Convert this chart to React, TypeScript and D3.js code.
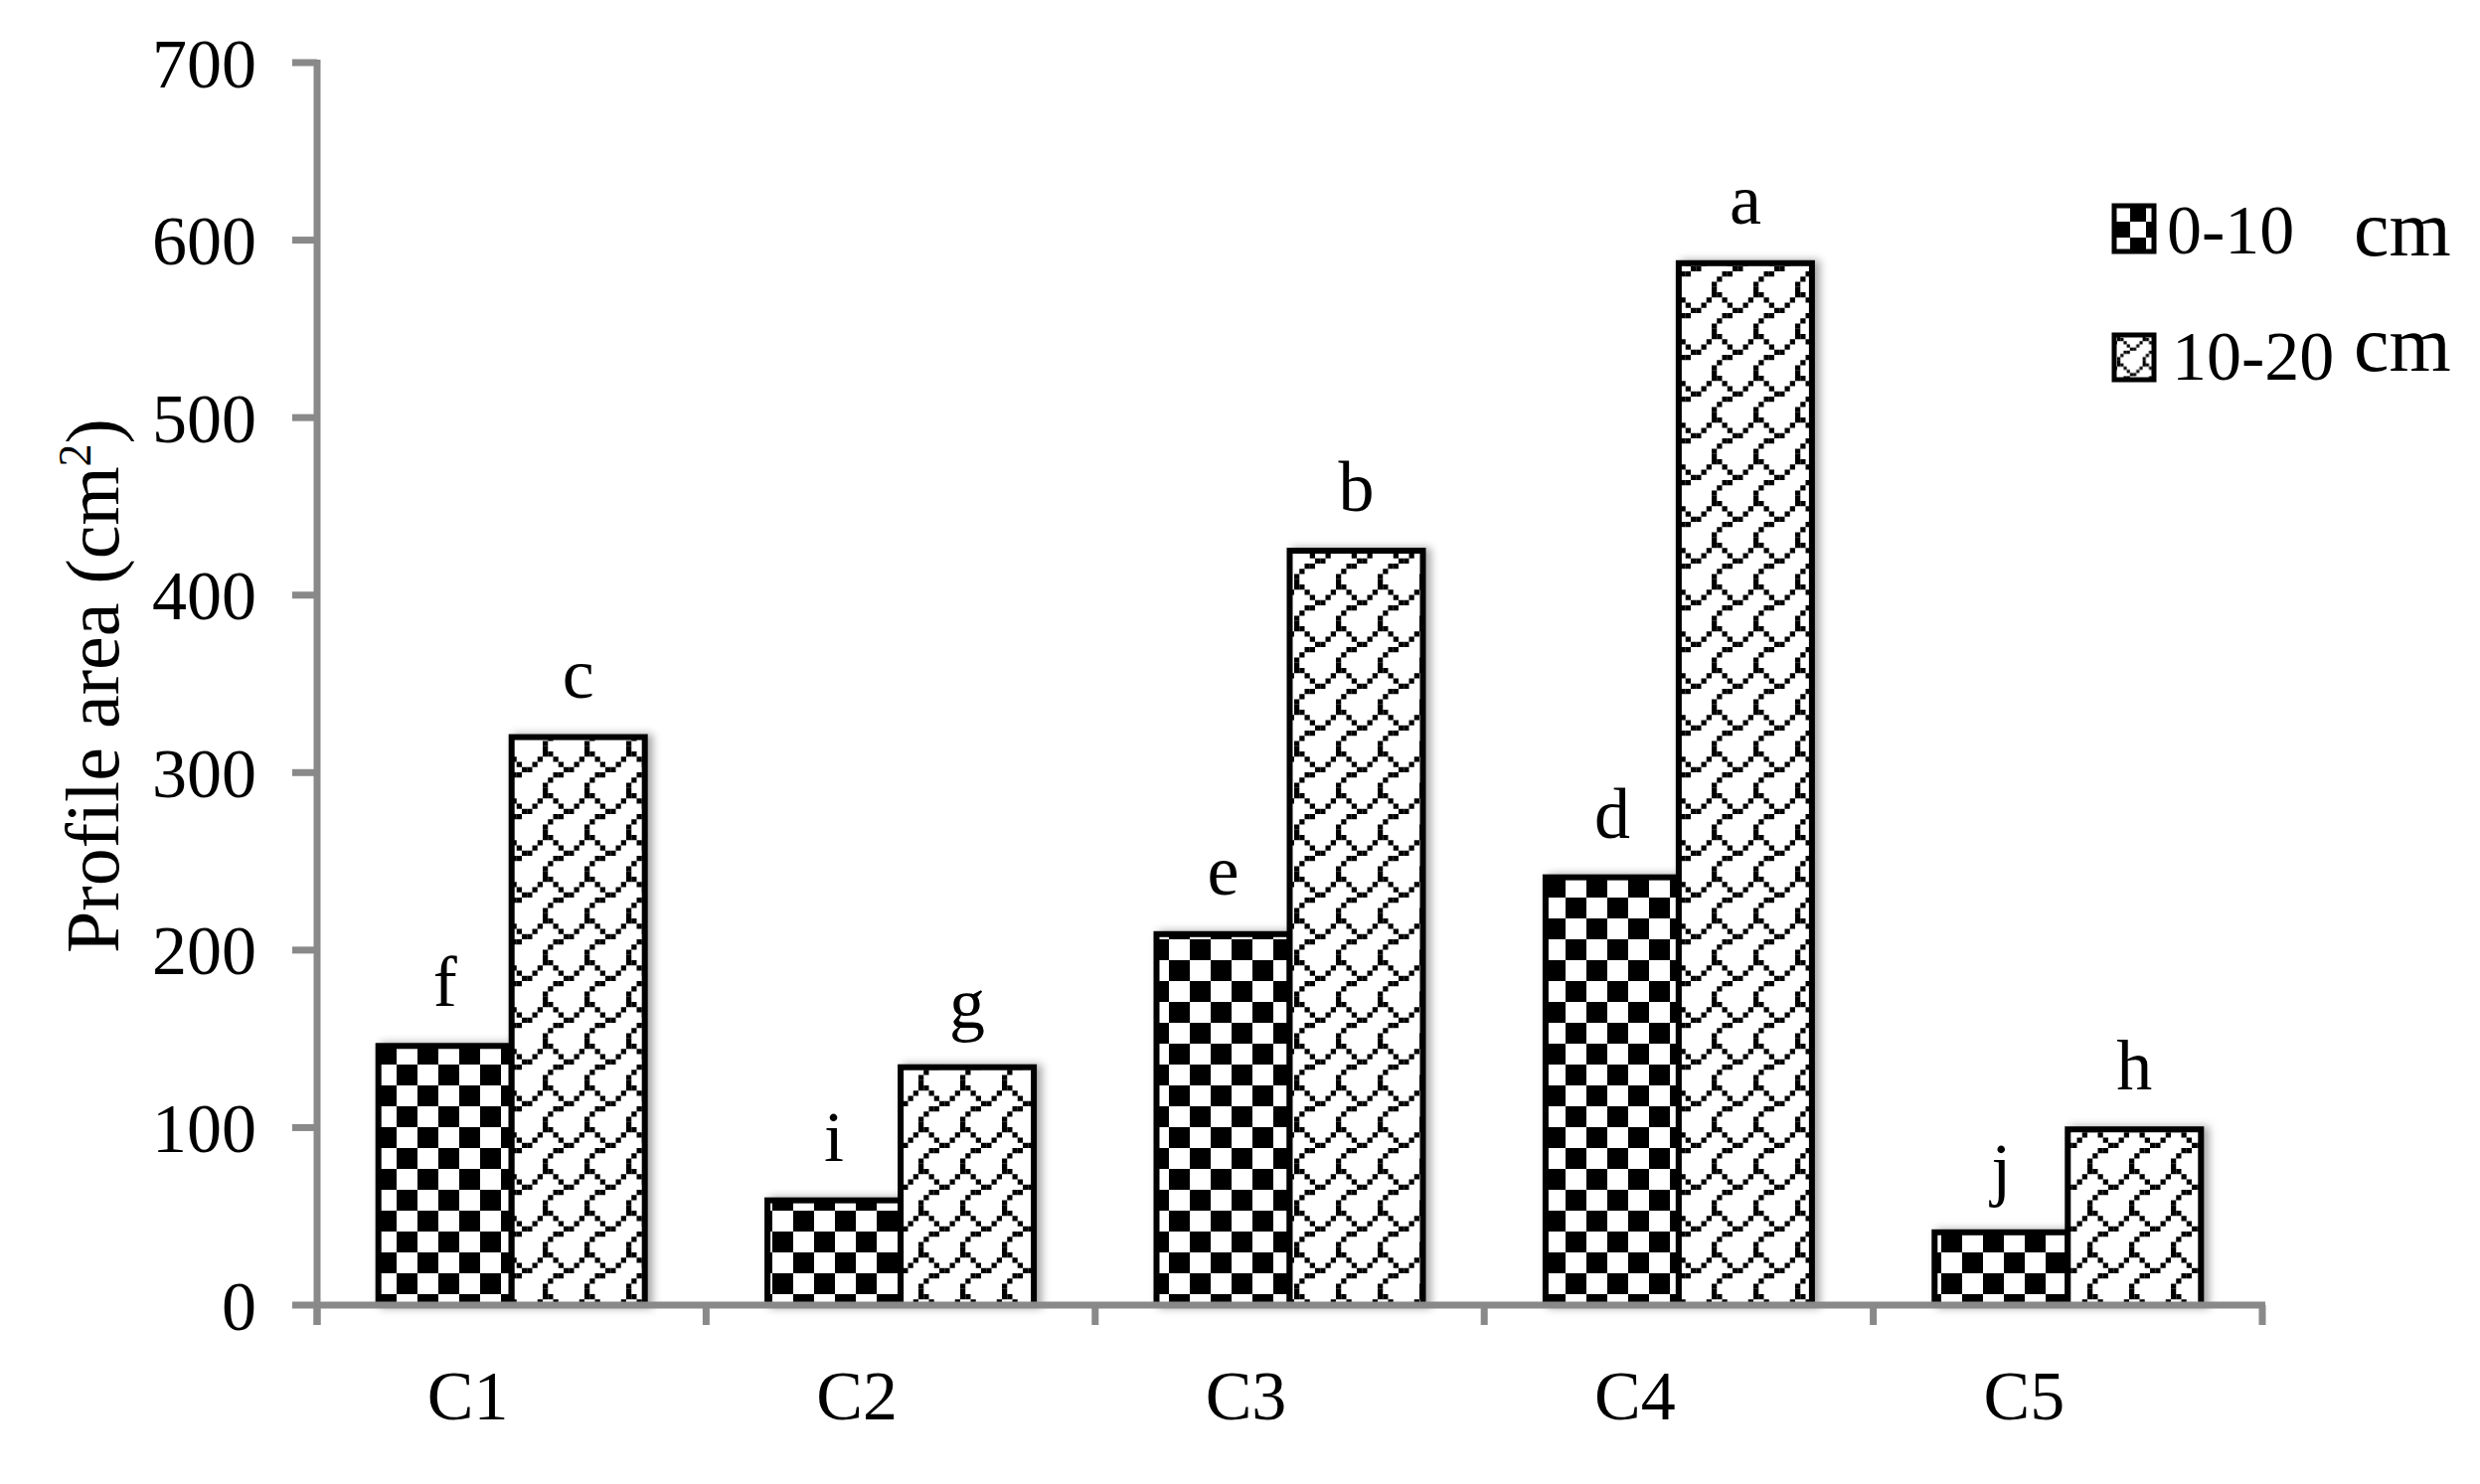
import React from "react";
import * as d3 from "d3";

const categories = ["C1", "C2", "C3", "C4", "C5"];
const seriesNames = ["0-10", "10-20"];
const depth0to10 = [146, 59, 209, 241, 41];
const depth10to20 = [320, 134, 425, 587, 99];
const letters0to10 = ["f", "i", "e", "d", "j"];
const letters10to20 = ["c", "g", "b", "a", "h"];
const yTicks = [0, 100, 200, 300, 400, 500, 600, 700];

const SHINGLE = [0x03, 0x84, 0x48, 0x30, 0x0c, 0x02, 0x01, 0x01];

const W = 2495;
const H = 1493;
const X0 = 319;
const X1 = 2276;
const Y0 = 1313;
const Y1 = 63;
const AX = "#898989";
const FONT = "'Liberation Serif', 'Times New Roman', serif";

function shinglePixels(px: number) {
  const out: { x: number; y: number }[] = [];
  SHINGLE.forEach((row, r) => {
    for (let b = 0; b < 8; b++) if (row & (1 << b)) out.push({ x: b * px, y: r * px });
  });
  return out;
}

export default function App() {
  const x = d3.scaleBand<string>().domain(categories).range([X0, X1]);
  const y = d3.scaleLinear().domain([0, 700]).range([Y0, Y1]);
  const barW = 134;
  const px = 5.25;
  const pxL = 3.2;

  const bars = categories.flatMap((c, i) => {
    const cx = (x(c) as number) + x.bandwidth() / 2;
    return [
      { key: c + "a", x: cx - barW, v: depth0to10[i], fill: "url(#checker)", label: letters0to10[i] },
      { key: c + "b", x: cx, v: depth10to20[i], fill: "url(#shingle)", label: letters10to20[i] },
    ];
  });

  return (
    <svg width={W} height={H} style={{ position: "absolute", left: 0, top: 0, background: "#fff" }} fontFamily={FONT}>
      <defs>
        <pattern id="checker" patternUnits="userSpaceOnUse" x={0} y={0} width={42} height={42}>
          <rect width={42} height={42} fill="#fff" />
          <rect x={0} y={0} width={21} height={21} fill="#000" />
          <rect x={21} y={21} width={21} height={21} fill="#000" />
        </pattern>
        <pattern id="shingle" patternUnits="userSpaceOnUse" x={0} y={0} width={8 * px} height={8 * px}>
          <rect width={8 * px} height={8 * px} fill="#fff" />
          {shinglePixels(px).map((p, k) => (
            <rect key={k} x={p.x} y={p.y} width={px} height={px} fill="#000" />
          ))}
        </pattern>
        <pattern id="checkerL" patternUnits="userSpaceOnUse" x={2127} y={207} width={32} height={32}>
          <rect width={32} height={32} fill="#000" />
          <rect x={0} y={0} width={16} height={16} fill="#fff" />
          <rect x={16} y={16} width={16} height={16} fill="#fff" />
        </pattern>
        <pattern id="shingleL" patternUnits="userSpaceOnUse" x={2130} y={340} width={8 * pxL} height={8 * pxL}>
          <rect width={8 * pxL} height={8 * pxL} fill="#fff" />
          {shinglePixels(pxL).map((p, k) => (
            <rect key={k} x={p.x} y={p.y} width={pxL} height={pxL} fill="#000" />
          ))}
        </pattern>
        <filter id="shadow" x="-20%" y="-5%" width="140%" height="110%">
          <feDropShadow dx={5} dy={0} stdDeviation={4} floodColor="#000" floodOpacity={0.35} />
        </filter>
      </defs>

      {/* bars */}
      <g filter="url(#shadow)">
        {bars.map((b) => (
          <rect
            key={b.key}
            x={b.x}
            y={y(b.v)}
            width={barW}
            height={y(0) - y(b.v)}
            fill={b.fill}
            stroke="#000"
            strokeWidth={6}
          />
        ))}
      </g>

      {/* significance letters */}
      {bars.map((b) => (
        <text key={b.key + "t"} x={b.x + barW / 2} y={y(b.v) - 40} textAnchor="middle" fontSize={72} fill="#000">
          {b.label}
        </text>
      ))}

      {/* y axis */}
      <line x1={X0} x2={X0} y1={Y1 - 3} y2={Y0 + 20} stroke={AX} strokeWidth={7} />
      {yTicks.map((t) => (
        <g key={t}>
          <line x1={X0 - 25} x2={X0} y1={y(t)} y2={y(t)} stroke={AX} strokeWidth={7} />
          <text x={258} y={y(t)} dy="0.35em" textAnchor="end" fontSize={70} fill="#000">
            {t}
          </text>
        </g>
      ))}

      {/* x axis */}
      <line x1={X0} x2={X1 + 3} y1={Y0} y2={Y0} stroke={AX} strokeWidth={7} />
      {[...categories.map((c) => x(c) as number), X1].map((xx, k) => (
        <line key={k} x1={xx} x2={xx} y1={Y0} y2={Y0 + 20} stroke={AX} strokeWidth={7} />
      ))}
      {categories.map((c) => (
        <text key={c} x={(x(c) as number) + x.bandwidth() / 2 - 44} y={1428} textAnchor="middle" fontSize={70} fill="#000">
          {c}
        </text>
      ))}

      {/* y title */}
      <text transform={`translate(92, 690) rotate(-90)`} textAnchor="middle" dy="0.35em" fontSize={76} fill="#000">
        Profile area (cm
        <tspan fontSize={46} dy={-28}>2</tspan>
        <tspan dy={28}>)</tspan>
      </text>

      {/* legend */}
      <rect x={2127} y={207} width={40} height={46} fill="url(#checkerL)" stroke="#000" strokeWidth={5} />
      <text x={2180} y={255} fontSize={70} fill="#000">{seriesNames[0]}</text>
      <text x={2368} y={257} fontSize={80} fill="#000">cm</text>
      <rect x={2127} y={337} width={40} height={45} fill="url(#shingleL)" stroke="#000" strokeWidth={5} />
      <text x={2185} y={382} fontSize={70} fill="#000">{seriesNames[1]}</text>
      <text x={2368} y={373} fontSize={80} fill="#000">cm</text>
    </svg>
  );
}
